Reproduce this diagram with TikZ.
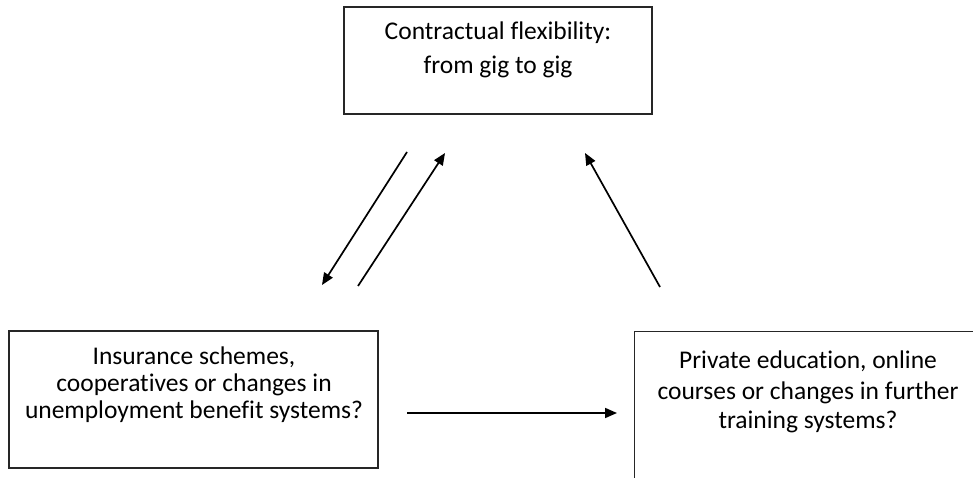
\documentclass[tikz,border=0pt]{standalone}
\usepackage{fontspec}
\setmainfont[Ligatures=CommonOff]{Carlito}
\usetikzlibrary{arrows.meta}
\begin{document}
\begin{tikzpicture}[x=1pt,y=1pt,
  boxline/.style={draw=black!85,line width=1.3pt},
  txt/.style={anchor=base,inner sep=0pt,font=\fontsize{25.5}{30}\selectfont},
  arr/.style={line width=1.7pt,-{Triangle[length=12pt,width=10pt]}}]
\useasboundingbox (0,0) rectangle (973,477);
\clip (0,0) rectangle (973,477);
% boxes
\node[boxline,minimum width=308pt,minimum height=107pt,inner sep=0pt] (topbox) at (498,416.5) {};
\node[boxline,minimum width=369pt,minimum height=137pt,inner sep=0pt] (leftbox) at (193.5,77.5) {};
\node[boxline,minimum width=380pt,minimum height=180pt,inner sep=0pt,anchor=north west] (rightbox) at (634,146) {};
% texts
\node[txt] (t1) at (498,437) {Contractual flexibility:};
\node[txt] (t2) at (498,403) {from gig to gig};
\node[txt] (l1) at (194,113) {Insurance schemes,};
\node[txt] (l2) at (194,85.5) {cooperatives or changes in};
\node[txt] (l3) at (194,59) {unemployment benefit systems?};
\node[txt] (r1) at (808,109) {Private education, online};
\node[txt] (r2) at (808,78) {courses or changes in further};
\node[txt] (r3) at (808,49) {training systems?};
% arrow ends
\coordinate (a1s) at (407,325);
\coordinate (a1e) at (322,192);
\coordinate (a2s) at (358,191);
\coordinate (a2e) at (445,324);
\coordinate (a3s) at (660,190);
\coordinate (a3e) at (585,324);
\coordinate (a4s) at (407,64);
\coordinate (a4e) at (617,64);
\draw[arr] (a1s) -- (a1e);
\draw[arr] (a2s) -- (a2e);
\draw[arr] (a3s) -- (a3e);
\draw[arr] (a4s) -- (a4e);
\end{tikzpicture}
\end{document}
